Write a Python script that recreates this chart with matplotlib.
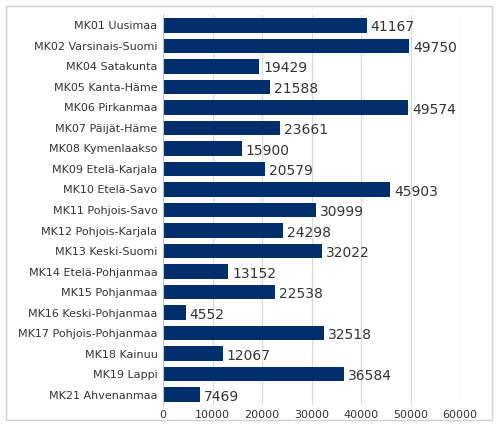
import matplotlib
matplotlib.use("Agg")
import matplotlib.pyplot as plt
from matplotlib.patches import Rectangle

categories = ["MK01 Uusimaa","MK02 Varsinais-Suomi","MK04 Satakunta","MK05 Kanta-Häme","MK06 Pirkanmaa",
 "MK07 Päijät-Häme","MK08 Kymenlaakso","MK09 Etelä-Karjala","MK10 Etelä-Savo","MK11 Pohjois-Savo",
 "MK12 Pohjois-Karjala","MK13 Keski-Suomi","MK14 Etelä-Pohjanmaa","MK15 Pohjanmaa","MK16 Keski-Pohjanmaa",
 "MK17 Pohjois-Pohjanmaa","MK18 Kainuu","MK19 Lappi","MK21 Ahvenanmaa"]
values = [41167,49750,19429,21588,49574,23661,15900,20579,45903,30999,24298,32022,13152,22538,4552,32518,12067,36584,7469]
xticks = [0,10000,20000,30000,40000,50000,60000]

fig = plt.figure(figsize=(5,4.33), dpi=100)
fig.patches.append(Rectangle((0.012,0.03),0.972,0.955, transform=fig.transFigure,
                             fill=False, edgecolor="#d0d0d0", lw=1))
ax = fig.add_axes([0.326, 0.065, 0.594, 0.9])
y = range(len(categories))
ax.barh(y, values, height=0.72, color="#002f6c")
for i, v in zip(y, values):
    ax.text(v+800, i+0.1, str(v), va="center", ha="left", fontsize=10, color="#333333")
ax.set_yticks(list(y))
ax.set_yticklabels(categories, fontsize=8, color="#333333")
ax.set_ylim(len(categories)-0.5, -0.5)
ax.set_xlim(0, 60000)
ax.set_xticks(xticks)
ax.set_xticklabels([str(t) for t in xticks], fontsize=8, color="#333333")
ax.grid(axis="x", color="#d9d9d9", lw=0.8)
ax.set_axisbelow(True)
for s in ["top","right","bottom"]:
    ax.spines[s].set_visible(False)
ax.spines["left"].set_color("#bfbfbf")
ax.tick_params(length=0, pad=4)
fig.savefig("out.png", dpi=100)
